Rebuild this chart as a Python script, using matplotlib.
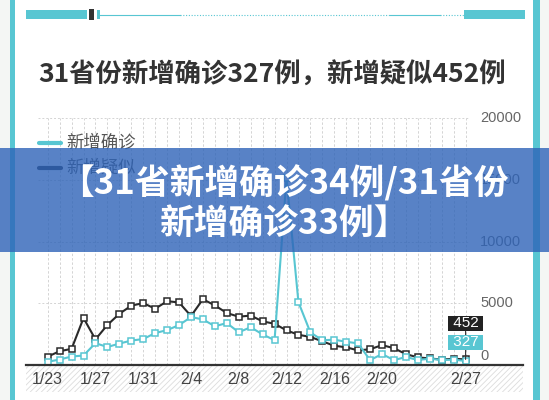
import matplotlib
matplotlib.use("Agg")
import matplotlib.pyplot as plt
from matplotlib.patches import Rectangle
from matplotlib import transforms

plt.rcParams['font.family'] = ['Noto Sans CJK SC', 'DejaVu Sans']
plt.rcParams['hatch.linewidth'] = 0.6

# 数据：1/23 - 2/27 全国每日新增
dates = ['1/23', '1/24', '1/25', '1/26', '1/27', '1/28', '1/29', '1/30', '1/31',
         '2/1', '2/2', '2/3', '2/4', '2/5', '2/6', '2/7', '2/8', '2/9', '2/10', '2/11',
         '2/12', '2/13', '2/14', '2/15', '2/16', '2/17', '2/18', '2/19', '2/20',
         '2/21', '2/22', '2/23', '2/24', '2/25', '2/26', '2/27']
confirmed = [259, 444, 688, 769, 1771, 1459, 1737, 1982, 2102,
             2590, 2829, 3235, 3887, 3694, 3143, 3399, 2656, 3062, 2478, 2015,
             15152, 5090, 2641, 2009, 2048, 1886, 1749, 394, 889,
             397, 648, 409, 508, 406, 433, 327]
suspected = [680, 1118, 1309, 3806, 2077, 3248, 4148, 4812, 5019,
             4562, 5173, 5072, 3971, 5328, 4833, 4214, 3916, 4008, 3536, 3342,
             2807, 2450, 2277, 1918, 1563, 1432, 1185, 1277, 1614,
             1361, 882, 620, 530, 439, 508, 452]
tick_labels = ['1/23', '1/27', '1/31', '2/4', '2/8', '2/12', '2/16', '2/20', '2/27']
y_ticks = [0, 5000, 10000, 15000, 20000]

title = '31省份新增确诊327例，新增疑似452例'
banner = '【31省新增确诊34例/31省份\n新增确诊33例】'
teal = '#58c6d2'
dark = '#2a2a2a'

W, H = 549, 400
fx = lambda px: px / W
fy = lambda py: 1 - py / H

fig = plt.figure(figsize=(W / 100, H / 100), dpi=100, facecolor='#f4f6f4')

# 卡片背景和边框
fig.add_artist(Rectangle((fx(15), 0), fx(533) - fx(15), 1, transform=fig.transFigure,
                         facecolor='white', edgecolor='none', zorder=-3))
for x0, x1 in [(10, 15), (533, 540)]:
    fig.add_artist(Rectangle((fx(x0), 0), fx(x1) - fx(x0), 1, transform=fig.transFigure,
                             facecolor=teal, edgecolor='none', zorder=-2))

# 顶部装饰条
for x0, x1, c in [(26, 87, teal), (89, 94, '#333333'), (97, 100, teal), (464, 525, teal)]:
    y0, y1 = (19, 10) if c == teal else (20, 9)
    fig.add_artist(Rectangle((fx(x0), fy(y0)), fx(x1) - fx(x0), fy(y1) - fy(y0),
                             transform=fig.transFigure, facecolor=c, edgecolor='none'))
fig.add_artist(plt.Line2D([fx(100), fx(180)], [fy(14.5)] * 2, color=teal, lw=0.8))
fig.add_artist(plt.Line2D([fx(180), fx(390)], [fy(14.5)] * 2, color=teal, lw=0.8, ls=(0, (1, 1.5))))
fig.add_artist(plt.Line2D([fx(390), fx(440)], [fy(14.5)] * 2, color=teal, lw=0.8))
fig.add_artist(plt.Line2D([fx(440), fx(464)], [fy(14.5)] * 2, color=teal, lw=0.8, ls=(0, (1, 1.5))))

# 标题
fig.text(fx(38), fy(75), title, fontsize=19, fontweight='bold', color='#333333',
         ha='left', va='center')

# 图例
for py, c, name in [(143, teal, '新增确诊'), (168, '#2b3440', '新增疑似')]:
    fig.add_artist(plt.Line2D([fx(39), fx(61)], [fy(py)] * 2, color=c, lw=3,
                              solid_capstyle='round'))
    fig.text(fx(66), fy(py), name, fontsize=12.5, color='#555555', ha='left', va='center')

# 底部斜纹区
fig.add_artist(Rectangle((fx(26), fy(392)), fx(523) - fx(26), fy(366) - fy(392),
                         transform=fig.transFigure, facecolor='white',
                         edgecolor='#dcdcdc', lw=0, hatch='//////', zorder=-1))

# 主图
ax = fig.add_axes([fx(26), fy(365), fx(523) - fx(26), fy(118.3) - fy(365)])
ax.set_facecolor('none')
x = list(range(len(dates)))
ax.set_xlim((26 - 47.7) / 11.94, (523 - 47.7) / 11.94)
ax.set_ylim(0, 20000)
for s in ax.spines.values():
    s.set_visible(False)

ax.vlines(x, 0, 20000, colors='#d4d4d4', lw=0.7, linestyles=(0, (2.5, 2)), zorder=1)
ax.hlines(y_ticks[1:], -0.81, 35.2, colors='#d4d4d4', lw=0.7, linestyles=(0, (2, 2)), zorder=1)

ax.plot(x, suspected, color=dark, lw=1.5, marker='s', ms=4.2, mfc='white', mec=dark,
        mew=1.1, zorder=3)
ax.plot(x, confirmed, color=teal, lw=1.5, marker='s', ms=4.2, mfc='white', mec=teal,
        mew=1.1, zorder=4)

ax.set_xticks([dates.index(t) for t in tick_labels])
ax.set_xticklabels(tick_labels, fontsize=11.5, color='#444444', family='Liberation Sans')
ax.tick_params(axis='x', length=0, pad=5)
ax.set_yticks([])

trans = transforms.blended_transform_factory(fig.transFigure, ax.transData)
for v in y_ticks:
    if v == 0:
        ax.annotate('0', xy=(fx(480), 0), xycoords=trans, xytext=(0, 6.5),
                    textcoords='offset points', fontsize=10.5, color='#666666',
                    family='Liberation Sans', ha='left', va='center')
    else:
        ax.text(fx(480), v, str(v), transform=trans, fontsize=10.5, color='#666666',
                family='Liberation Sans', ha='left', va='center')

# 底部基线
ax.axhline(0, color='#333333', lw=1.6, zorder=5, clip_on=False)

# 末值标签
xl = x[-1]
ax.annotate(' %d ' % suspected[-1], xy=(xl, suspected[-1]), xytext=(0, 26),
            textcoords='offset points', ha='center', va='center', fontsize=11,
            color='white', family='Liberation Sans',
            bbox=dict(boxstyle='square,pad=0.02', fc='#222222', ec='none'),
            arrowprops=dict(arrowstyle='-', color='#333333', lw=0.8, shrinkA=0, shrinkB=0),
            zorder=6)
ax.annotate(' %d ' % confirmed[-1], xy=(xl, confirmed[-1]), xytext=(0, 13.5),
            textcoords='offset points', ha='center', va='center', fontsize=11,
            color='white', family='Liberation Sans',
            bbox=dict(boxstyle='square,pad=0.02', fc=teal, ec='none'), zorder=7)

# 横幅
fig.add_artist(Rectangle((0, fy(252)), 1, fy(148) - fy(252), transform=fig.transFigure,
                         facecolor='#2e63b8', alpha=0.8, edgecolor='none', zorder=10))
fig.text(fx(284), fy(203.5), banner, fontsize=25, fontweight='bold', color='white',
         ha='center', va='center', linespacing=1.2, zorder=11)

fig.savefig('out.png', dpi=100, facecolor=fig.get_facecolor())
